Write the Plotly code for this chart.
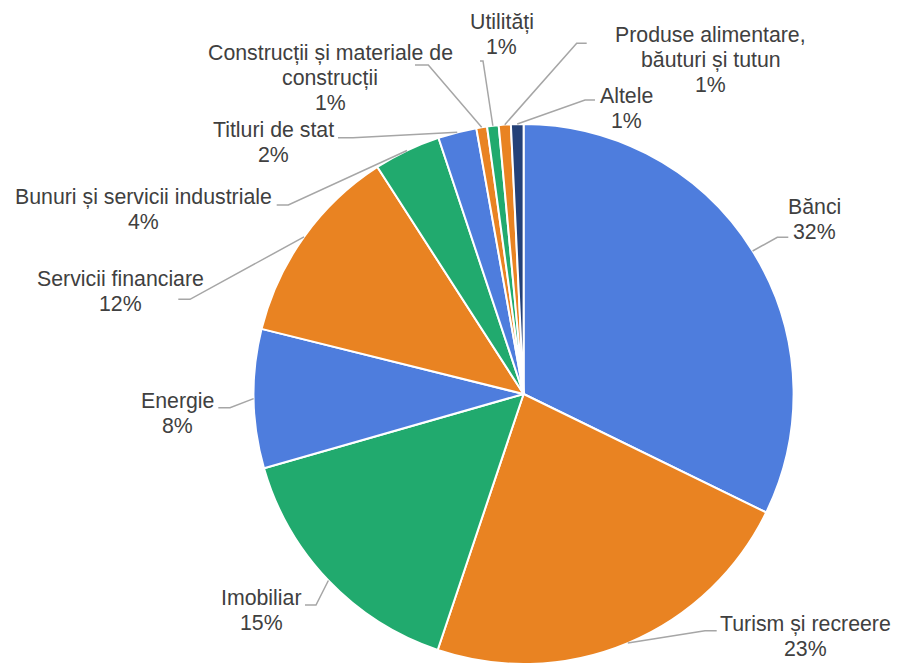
import math
import plotly.graph_objects as go

# ---- data ----
categories = ["Bănci", "Turism și recreere", "Imobiliar", "Energie", "Servicii financiare",
              "Bunuri și servicii industriale", "Titluri de stat",
              "Construcții și materiale de construcții", "Utilități",
              "Produse alimentare, băuturi și tutun", "Altele"]
values = [32.2, 22.9, 15.4, 8.3, 12.0, 4.0, 2.3, 0.64, 0.69, 0.72, 0.75]

# ---- styling / layout ----
W, H = 899, 664
BLUE, ORANGE, GREEN, NAVY = "#4E7DDD", "#E98322", "#21AA6E", "#244178"
colors = [BLUE, ORANGE, GREEN, BLUE, ORANGE, GREEN, BLUE, ORANGE, GREEN, ORANGE, NAVY]
CX, CY, R = 523.6, 394.0, 270.0   # pie centre / radius in pixels
FONT = "Liberation Sans, Arial, sans-serif"
TXT = "#404040"
FS = 21.3
LINE_H = 25

# how each label is broken into lines (presentation only)
wrap = {
    "Construcții și materiale de construcții": ["Construcții și materiale de", "construcții"],
    "Produse alimentare, băuturi și tutun": ["Produse alimentare,", "băuturi și tutun"],
}
# label block: centre x, centre y of first line (pixels)
label_pos = [(814.5, 207), (805.5, 624), (261, 598), (177, 401), (120, 279),
             (143.5, 197), (273, 130), (330, 53), (502, 22), (710.5, 35), (626, 96)]
# leader line: elbow and end points near the label (pixels)
leader = [((777.3, 237.3), (788.3, 237.3)),
          ((705, 630.7), (716.7, 630.7)),
          ((316, 605), (305, 605)),
          ((230, 407.7), (218.3, 407.7)),
          ((190, 299.3), (178.3, 299.3)),
          ((288.3, 205), (276.7, 205)),
          ((353, 137.7), (338, 137.7)),
          ((428.3, 65), (415, 65)),
          ((483, 61), (480, 61)),
          ((576.7, 43.3), (586.7, 43.3)),
          ((585, 100), (595, 100))]

def px(x):
    return x / W

def py(y):
    return 1 - y / H

fig = go.Figure(go.Pie(
    labels=categories, values=values, sort=False, direction="clockwise", rotation=0,
    textinfo="none", hoverinfo="label+percent",
    marker=dict(colors=colors, line=dict(color="white", width=2)),
    domain=dict(x=[px(CX - R), px(CX + R)], y=[0, 2 * R / H]),
    showlegend=False,
))

total = sum(values)
cum = 0.0
annotations = []
shapes = []
for i, (cat, v) in enumerate(zip(categories, values)):
    mid = (cum + v / 2) / total * 2 * math.pi
    cum += v
    sx, sy = CX + R * math.sin(mid), CY - R * math.cos(mid)
    (ex, ey), (tx, ty) = leader[i]
    shapes.append(dict(type="path", xref="paper", yref="paper",
                       path=f"M {px(sx)},{py(sy)} L {px(ex)},{py(ey)} L {px(tx)},{py(ty)}",
                       line=dict(color="#A6A6A6", width=1.5)))
    lines = wrap.get(cat, [cat]) + [f"{round(v / total * 100)}%"]
    lx, ly = label_pos[i]
    for k, t in enumerate(lines):
        annotations.append(dict(x=px(lx), y=py(ly + k * LINE_H), xref="paper", yref="paper",
                                text=t, showarrow=False, xanchor="center", yanchor="middle",
                                font=dict(family=FONT, size=FS, color=TXT)))

fig.update_layout(
    width=W, height=H, margin=dict(l=0, r=0, t=0, b=0),
    paper_bgcolor="white", plot_bgcolor="white",
    annotations=annotations, shapes=shapes,
)
fig.write_html("out.html", config={"displayModeBar": False},
               post_script="document.body.style.margin='0';document.body.style.overflow='hidden';")
